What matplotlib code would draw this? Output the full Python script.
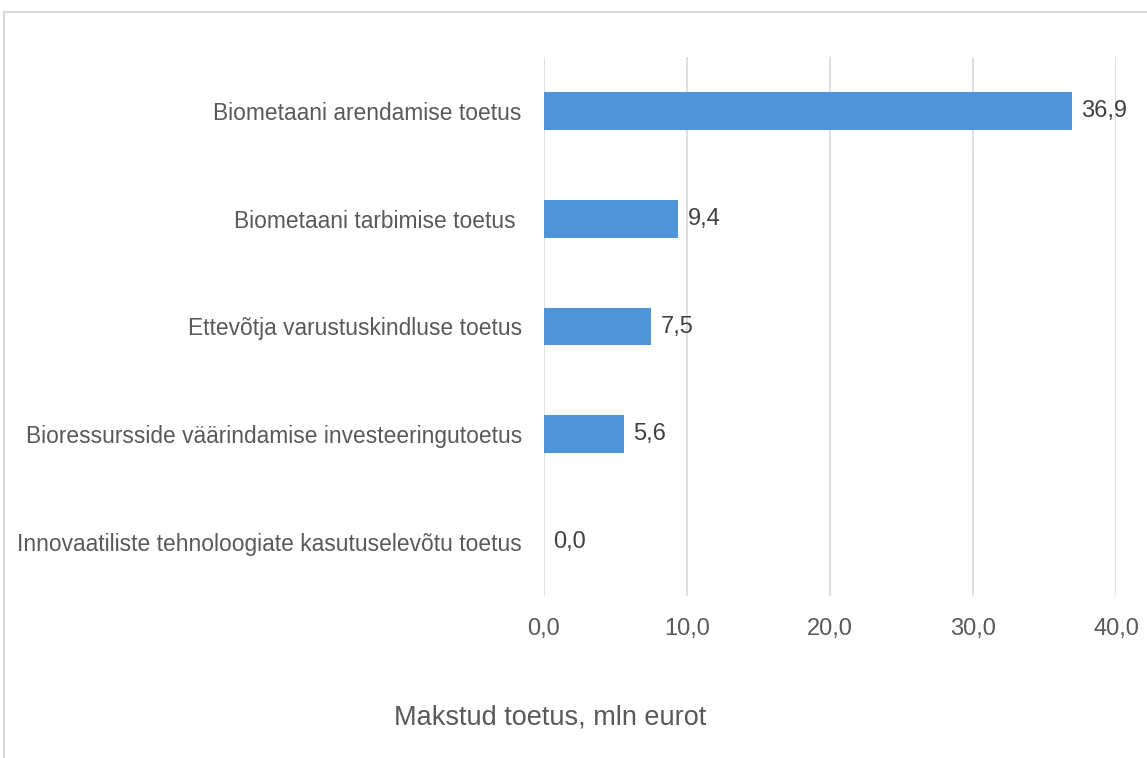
import matplotlib
matplotlib.use("Agg")
import matplotlib.pyplot as plt
from matplotlib.patches import Rectangle

categories = [
    "Biometaani arendamise toetus",
    "Biometaani tarbimise toetus ",
    "Ettevõtja varustuskindluse toetus",
    "Bioressursside väärindamise investeeringutoetus",
    "Innovaatiliste tehnoloogiate kasutuselevõtu toetus",
]
values = [36.9, 9.4, 7.5, 5.6, 0.0]
xticks = [0, 10, 20, 30, 40]
xlabel = "Makstud toetus, mln eurot"

plt.rcParams['font.family'] = ['Liberation Sans', 'DejaVu Sans']

fig = plt.figure(figsize=(11.47, 7.58), dpi=100)
W, H = 1147, 758
ax = fig.add_axes([544 / W, 1 - 596 / H, (1116 - 544) / W, (596 - 57) / H])

ypos = list(range(len(categories)))
ax.barh(ypos, values, height=0.35, color="#4F94D8", zorder=3)
ax.set_ylim(len(categories) - 0.5, -0.5)
ax.set_xlim(0, 40)
ax.set_xticks(xticks)
ax.set_xticklabels([f"{t:.1f}".replace(".", ",") for t in xticks], fontsize=17, color="#595959")
ax.set_yticks(ypos)
ax.set_yticklabels(categories, fontsize=16.4, color="#595959")
ax.tick_params(axis="both", length=0)
ax.tick_params(axis="x", pad=16)
ax.tick_params(axis="y", pad=16)
ax.grid(axis="x", color="#D9D9D9", linewidth=1.2, zorder=0)
for s in ax.spines.values():
    s.set_visible(False)

for y, v in zip(ypos, values):
    ax.annotate(f"{v:.1f}".replace(".", ","), xy=(v, y), xytext=(6.5, 0),
                textcoords="offset points", va="center", ha="left",
                fontsize=17, color="#404040", zorder=4)

fig.text(550 / W, 1 - 717 / H, xlabel, ha="center", va="center", fontsize=19.5, color="#595959")

fig.patches.append(Rectangle((4 / W, -0.1), 1.2, 1 - 12 / H + 0.1, transform=fig.transFigure,
                             fill=False, edgecolor="#D9D9D9", linewidth=1.5))

fig.savefig("out.png", dpi=100)
